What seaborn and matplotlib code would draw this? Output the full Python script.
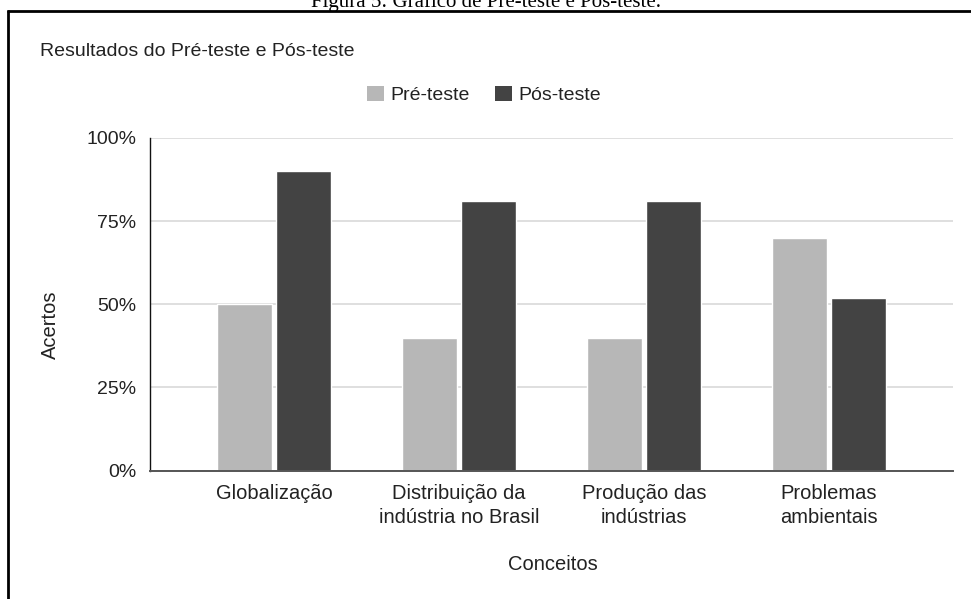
import matplotlib
matplotlib.use("Agg")
import matplotlib.pyplot as plt
from matplotlib.lines import Line2D
from matplotlib.patches import Patch
from matplotlib.ticker import FuncFormatter
import pandas as pd
import seaborn as sns

# Data
conceitos = [
    "Globalização",
    "Distribuição da\nindústria no Brasil",
    "Produção das\nindústrias",
    "Problemas\nambientais",
]
series = ["Pré-teste", "Pós-teste"]
pre_teste = [50, 40, 40, 70]
pos_teste = [90, 81, 81, 52]
y_ticks = [0, 25, 50, 75, 100]

cores = {"Pré-teste": "#b7b7b7", "Pós-teste": "#434343"}

df = pd.DataFrame({
    "Conceitos": conceitos * 2,
    "Acertos": pre_teste + pos_teste,
    "Teste": [series[0]] * len(conceitos) + [series[1]] * len(conceitos),
})

sns.set_theme(style="white")
plt.rcParams["font.family"] = ["Liberation Sans", "DejaVu Sans"]
texto = "#222222"
fs = 14.5

fig = plt.figure(figsize=(9.71, 5.99), dpi=100)
ax = fig.add_axes([150 / 971, 1 - 470.6 / 599, 803 / 971, 332.6 / 599])

sns.barplot(
    data=df, x="Conceitos", y="Acertos", hue="Teste",
    palette=cores, hue_order=series, order=conceitos,
    width=0.64, gap=0.06, saturation=1, legend=False, ax=ax,
)

ax.set_xlim(-0.67, 3.67)
ax.set_ylim(0, 100)
ax.set_yticks(y_ticks)
ax.yaxis.set_major_formatter(FuncFormatter(lambda v, _: f"{v:.0f}%"))
ax.yaxis.grid(True, color="#d9d9d9", linewidth=1.2)
ax.set_axisbelow(True)

for s in ("top", "right"):
    ax.spines[s].set_visible(False)
ax.spines["left"].set_color("#111111")
ax.spines["left"].set_linewidth(1.0)
ax.spines["bottom"].set_color("#555555")
ax.spines["bottom"].set_linewidth(1.4)

ax.tick_params(axis="both", length=0, labelcolor=texto)
ax.tick_params(axis="y", pad=10, labelsize=14)
ax.tick_params(axis="x", pad=10, labelsize=fs)
for lbl in ax.get_xticklabels():
    lbl.set_linespacing(1.3)

ax.set_xlabel("Conceitos", fontsize=fs, color=texto)
ax.xaxis.set_label_coords(0.502, (470.6 - 565) / 332.6)
ax.xaxis.label.set_va("center")
ax.set_ylabel("Acertos", fontsize=fs, color=texto)
ax.yaxis.set_label_coords((50 - 150) / 803, (470.6 - 325) / 332.6)
ax.yaxis.label.set_va("center")

# Title and legend
fig.text(40 / 971, 1 - 52 / 599, "Resultados do Pré-teste e Pós-teste",
         fontsize=14, color=texto, ha="left", va="center")
handles = [Patch(facecolor=cores[s], edgecolor="none", label=s) for s in series]
fig.legend(handles=handles, loc="center", bbox_to_anchor=(484 / 971, 1 - 95 / 599),
           ncol=2, frameon=False, fontsize=14, handlelength=0.85, handleheight=0.85,
           handletextpad=0.35, columnspacing=1.3, labelcolor=texto)

# Figure caption above the frame
fig.text(0.5, 1 - 7 / 599, "Figura 5: Gráfico de Pré-teste e Pós-teste.",
         fontsize=15, family=["Liberation Serif", "DejaVu Serif"], color="black",
         ha="center", va="baseline")

# Frame lines
fig.add_artist(Line2D([7 / 971, 1.0], [1 - 10.8 / 599] * 2, transform=fig.transFigure,
                      color="black", linewidth=2.0, solid_capstyle="butt"))
fig.add_artist(Line2D([8.2 / 971] * 2, [1 - 10 / 599, 0.0], transform=fig.transFigure,
                      color="black", linewidth=2.0, solid_capstyle="butt"))

fig.savefig("out.png", dpi=100)
